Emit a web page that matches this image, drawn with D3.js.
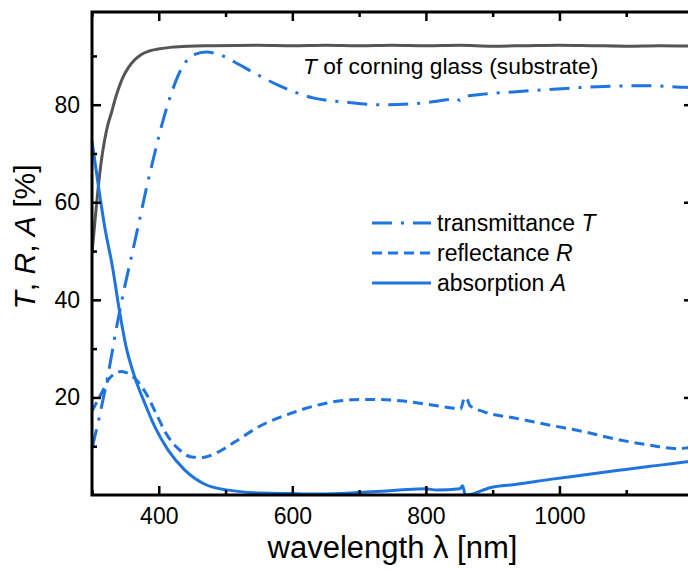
<!DOCTYPE html>
<html>
<head>
<meta charset="utf-8">
<script src="https://cdn.jsdelivr.net/npm/d3@7"></script>
<style>
  body { margin: 0; background: #fff; }
  text { font-family: "Liberation Sans", Arial, sans-serif; }
</style>
</head>
<body>
<div id="chart"></div>
<script>
// values (wavelength in nm, value in %)
var glassWl = [300, 302, 305, 309, 314, 319, 324, 329, 335, 341, 347, 354, 364, 374, 386, 399, 420, 444, 480, 549, 600, 650, 700, 750, 800, 850, 900, 950, 1000, 1050, 1100, 1150, 1200];
var glassT  = [49.5, 52.5, 57, 62.6, 68.5, 72.8, 76, 78.3, 81.3, 83.8, 85.8, 87.5, 89.2, 90.3, 91.0, 91.4, 91.8, 92.0, 92.1, 92.2, 92.1, 92.2, 92.1, 92.2, 92.1, 92.2, 92.0, 92.1, 92.2, 92.1, 92.0, 92.1, 92.0];

var transWl = [300, 311, 324, 336, 349, 358, 369, 381, 394, 406, 419, 436, 454, 471, 494, 514, 539, 582, 631, 682, 732, 781, 831, 845, 851, 856, 881, 930, 982, 1030, 1081, 1130, 1181, 1200];
var transT  = [9.5, 16.0, 24.6, 33.8, 42.7, 48.2, 55.0, 62.6, 70.1, 76.6, 82.4, 87.9, 90.3, 90.8, 90.1, 88.7, 86.8, 83.8, 81.4, 80.5, 80.0, 80.2, 81.0, 81.3, 80.9, 81.6, 82.1, 82.6, 83.1, 83.5, 83.8, 83.9, 83.6, 83.5];

var reflWl = [300, 314, 326, 344, 364, 381, 396, 411, 429, 449, 466, 489, 514, 554, 597, 637, 687, 717, 762, 811, 841, 852, 858, 862, 866, 886, 936, 986, 1036, 1086, 1136, 1176, 1200];
var reflR  = [17.2, 20.8, 23.9, 25.3, 23.9, 20.8, 16.7, 12.6, 9.5, 7.8, 7.7, 8.8, 10.9, 14.3, 16.7, 18.4, 19.5, 19.6, 19.3, 18.4, 17.8, 17.6, 20.0, 19.6, 18.3, 17.1, 15.7, 14.3, 13.0, 11.4, 10.2, 9.5, 9.8];

var absWl = [300, 309, 319, 331, 341, 351, 364, 379, 394, 414, 439, 469, 504, 554, 594, 637, 712, 760, 799, 816, 851, 855, 859, 866, 896, 936, 986, 1036, 1086, 1136, 1191, 1200];
var absA  = [72.5, 63.9, 55.0, 46.5, 37.8, 30.4, 24.2, 18.8, 14.0, 9.2, 5.1, 2.2, 1.0, 0.4, 0.3, 0.2, 0.6, 1.0, 1.3, 1.0, 1.3, 1.9, 0, 0.1, 1.5, 2.2, 3.2, 4.1, 5.0, 5.9, 6.8, 7.0];

var xTicks = [400, 600, 800, 1000];
var xMinorTicks = [300, 500, 700, 900, 1100];
var yTicks = [20, 40, 60, 80];
var yMinorTicks = [10, 30, 50, 70, 90];

var legendItems = [
  {label: 'transmittance ', sym: 'T', dash: '20,9,3,9'},
  {label: 'reflectance ', sym: 'R', dash: '10,6'},
  {label: 'absorption ', sym: 'A', dash: null}
];

var width = 688, height = 571;
var blue = '#1f74df', grey = '#555555';

var x = d3.scaleLinear().domain([300, 1200]).range([92, 693]);
var y = d3.scaleLinear().domain([0, 99]).range([495, 12]);

var svg = d3.select('#chart').append('svg')
  .attr('width', width)
  .attr('height', height);

svg.append('defs').append('clipPath')
  .attr('id', 'plotClip')
  .append('rect')
  .attr('x', x(300)).attr('y', y(99))
  .attr('width', x(1200) - x(300)).attr('height', y(0) - y(99));

var line = d3.line()
  .x(function(d) { return x(d[0]); })
  .y(function(d) { return y(d[1]); })
  .curve(d3.curveMonotoneX);

function pairs(a, b) { return a.map(function(v, i) { return [v, b[i]]; }); }

var series = [
  {data: pairs(glassWl, glassT), color: grey, dash: null},
  {data: pairs(reflWl, reflR), color: blue, dash: '10,6'},
  {data: pairs(transWl, transT), color: blue, dash: '20,9,3,9'},
  {data: pairs(absWl, absA), color: blue, dash: null}
];

svg.append('g').attr('clip-path', 'url(#plotClip)')
  .selectAll('path')
  .data(series)
  .enter().append('path')
  .attr('d', function(d) { return line(d.data); })
  .style('fill', 'none')
  .style('stroke', function(d) { return d.color; })
  .style('stroke-width', 3)
  .style('stroke-dasharray', function(d) { return d.dash; });

// axes, ticks point into the plot
function styleAxis(g) {
  g.select('.domain').remove();
  g.selectAll('.tick line').style('stroke', '#000').style('stroke-width', 2.5);
  g.selectAll('.tick text').style('font-size', '23px').style('fill', '#000')
    .style('font-family', '"Liberation Sans", Arial, sans-serif');
}

svg.append('g').attr('transform', 'translate(0,' + y(0) + ')')
  .call(d3.axisBottom(x).tickValues(xTicks).tickFormat(d3.format('d')).tickSizeInner(-9).tickSizeOuter(0).tickPadding(13))
  .call(styleAxis);
svg.append('g').attr('transform', 'translate(0,' + y(0) + ')')
  .call(d3.axisBottom(x).tickValues(xMinorTicks).tickSizeInner(-5).tickSizeOuter(0).tickFormat(''))
  .call(styleAxis);
svg.append('g').attr('transform', 'translate(0,' + y(99) + ')')
  .call(d3.axisTop(x).tickValues(xTicks).tickSizeInner(-9).tickSizeOuter(0).tickFormat(''))
  .call(styleAxis);
svg.append('g').attr('transform', 'translate(0,' + y(99) + ')')
  .call(d3.axisTop(x).tickValues(xMinorTicks).tickSizeInner(-5).tickSizeOuter(0).tickFormat(''))
  .call(styleAxis);

svg.append('g').attr('transform', 'translate(' + x(300) + ',0)')
  .call(d3.axisLeft(y).tickValues(yTicks).tickSizeInner(-9).tickSizeOuter(0).tickPadding(12))
  .call(styleAxis);
svg.append('g').attr('transform', 'translate(' + x(300) + ',0)')
  .call(d3.axisLeft(y).tickValues(yMinorTicks).tickSizeInner(-5).tickSizeOuter(0).tickFormat(''))
  .call(styleAxis);
svg.append('g').attr('transform', 'translate(' + x(1200) + ',0)')
  .call(d3.axisLeft(y).tickValues(yTicks).tickSizeInner(9).tickSizeOuter(0).tickFormat(''))
  .call(styleAxis);
svg.append('g').attr('transform', 'translate(' + x(1200) + ',0)')
  .call(d3.axisLeft(y).tickValues(yMinorTicks).tickSizeInner(5).tickSizeOuter(0).tickFormat(''))
  .call(styleAxis);

// frame
svg.append('rect')
  .attr('x', x(300)).attr('y', y(99))
  .attr('width', x(1200) - x(300)).attr('height', y(0) - y(99))
  .style('fill', 'none').style('stroke', '#000').style('stroke-width', 3);

// axis titles
svg.append('text')
  .attr('x', (x(300) + x(1200)) / 2).attr('y', 558)
  .attr('text-anchor', 'middle')
  .style('font-size', '31px')
  .text('wavelength λ [nm]');

var yTitle = svg.append('text')
  .attr('transform', 'translate(35,237) rotate(-90)')
  .attr('text-anchor', 'middle')
  .style('font-size', '30px');
yTitle.append('tspan').style('font-style', 'italic').text('T');
yTitle.append('tspan').text(', ');
yTitle.append('tspan').style('font-style', 'italic').text('R');
yTitle.append('tspan').text(', ');
yTitle.append('tspan').style('font-style', 'italic').text('A');
yTitle.append('tspan').text(' [%]');

// annotation for the substrate curve
var note = svg.append('text')
  .attr('x', 303).attr('y', 74)
  .style('font-size', '22.8px');
note.append('tspan').style('font-style', 'italic').text('T');
note.append('tspan').text(' of corning glass (substrate)');

// legend
var legend = svg.append('g').attr('transform', 'translate(372,223)');
var rows = legend.selectAll('g')
  .data(legendItems)
  .enter().append('g')
  .attr('transform', function(d, i) { return 'translate(0,' + i * 30 + ')'; });
rows.append('line')
  .attr('x1', 0).attr('x2', 59).attr('y1', 0).attr('y2', 0)
  .style('stroke', blue).style('stroke-width', 3)
  .style('stroke-dasharray', function(d) { return d.dash; });
var labels = rows.append('text')
  .attr('x', 65).attr('y', 8)
  .style('font-size', '23px');
labels.append('tspan').text(function(d) { return d.label; });
labels.append('tspan').style('font-style', 'italic').text(function(d) { return d.sym; });
</script>
</body>
</html>
